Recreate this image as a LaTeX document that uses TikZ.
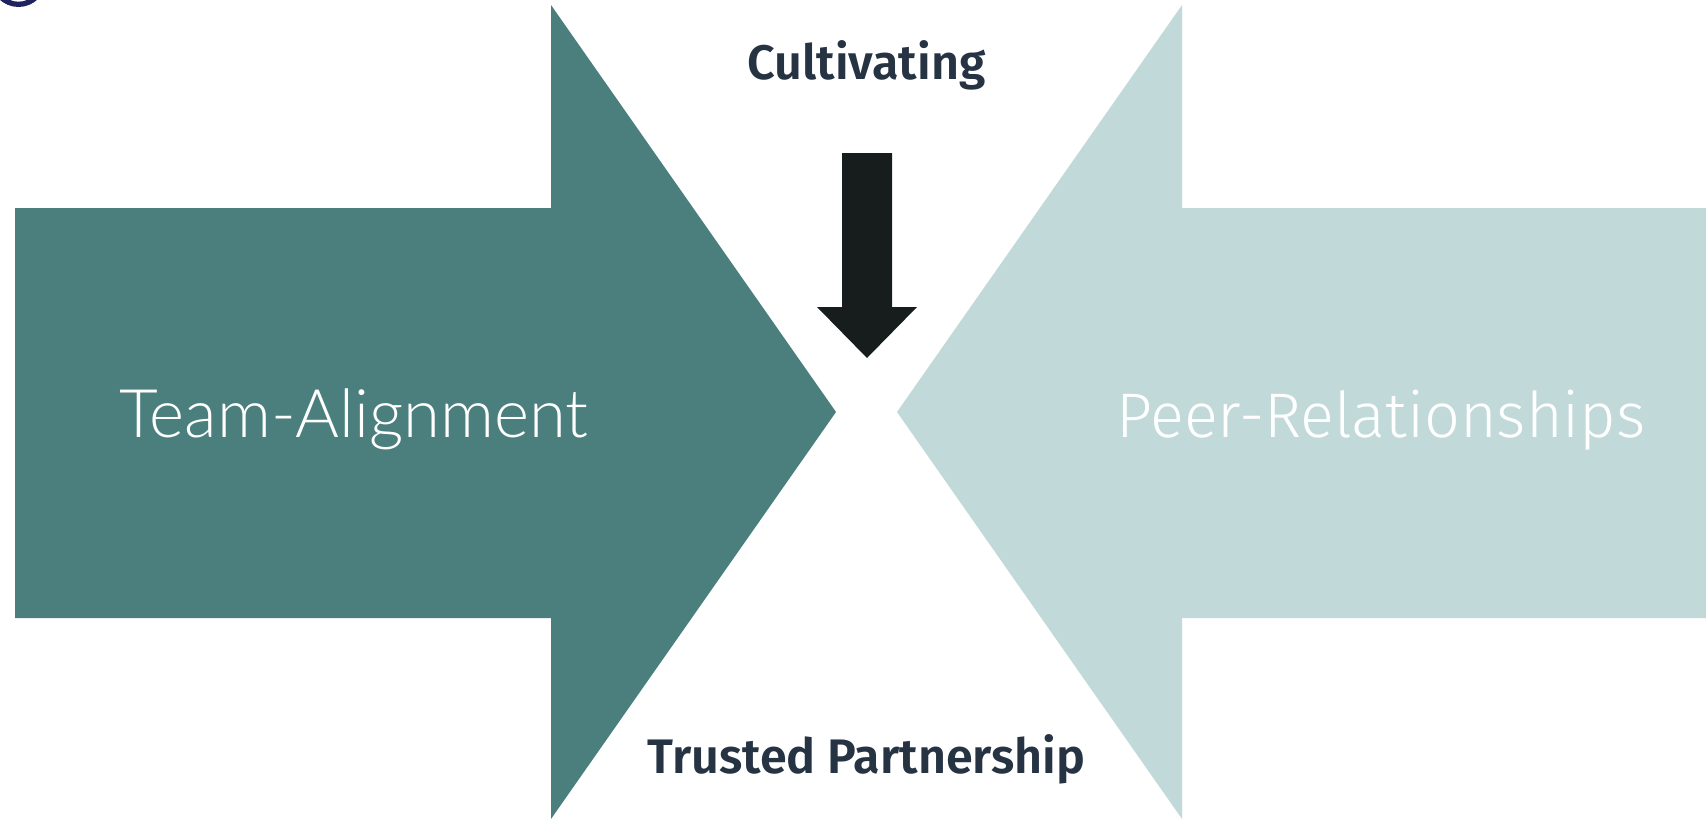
\documentclass[tikz,border=0pt]{standalone}
\usepackage{fontspec}
\setmainfont{Fira Sans}
\newfontfamily\latolight{Lato Light}
\newfontfamily\firalight{Fira Sans Light}
\newfontfamily\firabold{Fira Sans SemiBold}
\definecolor{tealdark}{HTML}{4A7F7E}
\definecolor{teallight}{HTML}{C1D9D9}
\definecolor{arrowblack}{HTML}{171C1C}
\definecolor{textnavy}{HTML}{253343}
\definecolor{ringnavy}{HTML}{1F2260}
\tikzset{
  headtext/.style={text=textnavy, inner sep=0pt, anchor=base,
    font=\firabold\fontsize{48.5}{58}\selectfont},
  armtext/.style={text=white, inner sep=0pt, anchor=base}
}
\begin{document}
\begin{tikzpicture}[x=1pt, y=-1pt]
      \useasboundingbox (0,0) rectangle (1706,819);
      % cut-off letter in the corner
      \begin{scope}
        \clip (0,0) rectangle (1706,819);
        \fill[ringnavy, even odd rule] (18.5,-20.9) circle (27.9) (18.5,-20.9) circle (22.6);
      \end{scope}
      \fill[tealdark] (15,208) -- (551,208) -- (551,5) -- (836,412)
        -- (551,819) -- (551,618) -- (15,618) -- cycle;
      \fill[teallight] (1706,208) -- (1182,208) -- (1182,5) -- (897,412)
        -- (1182,819) -- (1182,618) -- (1706,618) -- cycle;
      \fill[arrowblack] (842,153) -- (892,153) -- (892,307) -- (917,307)
        -- (867,358) -- (817,307) -- (842,307) -- cycle;
      \draw
        (866.5,79) node[headtext] (cult){Cultivating}
        (866.5,773) node[headtext] (trust){Trusted Partnership}
        (354,437) node[armtext, font=\latolight\fontsize{67}{78}\selectfont] (team){Team-Alignment}
        (1381,437) node[armtext, font=\firalight\fontsize{63}{74}\selectfont] (peer){Peer-Relationships};
    \end{tikzpicture}
\end{document}
